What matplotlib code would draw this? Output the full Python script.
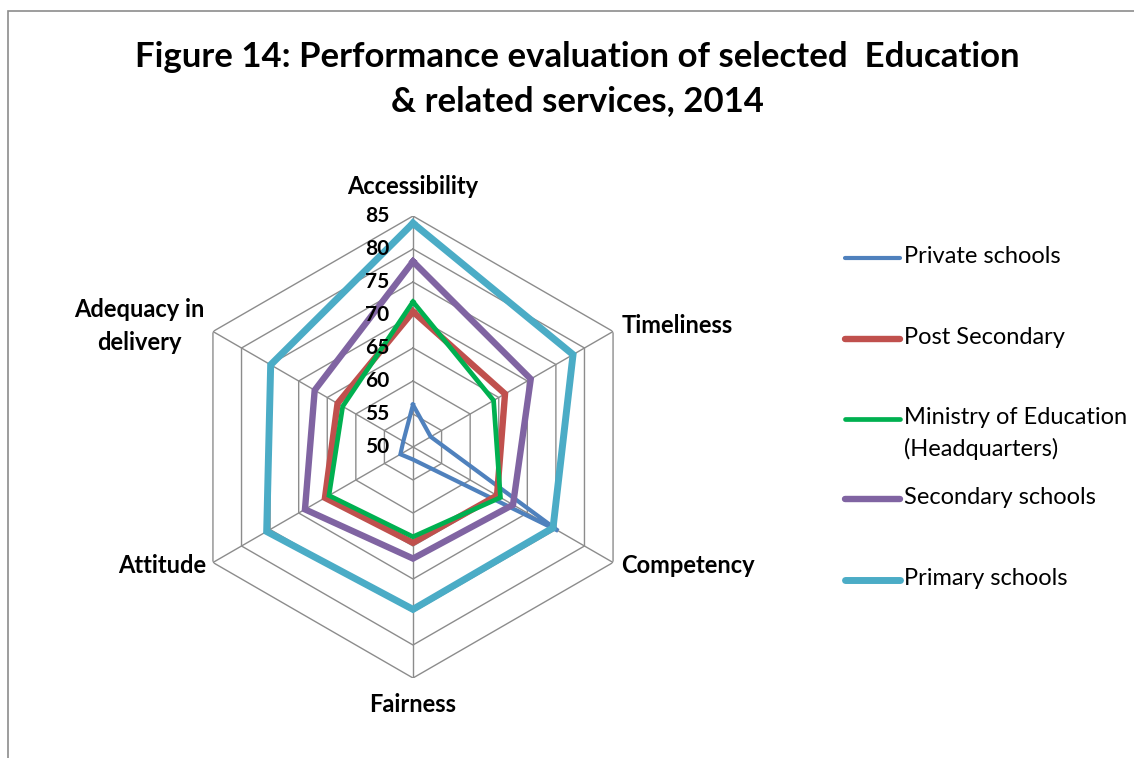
import numpy as np
import matplotlib
matplotlib.use("Agg")
import matplotlib.pyplot as plt
from matplotlib.lines import Line2D
from matplotlib.patches import Rectangle

plt.rcParams['font.family'] = ['Lato', 'DejaVu Sans']

categories = ['Accessibility', 'Timeliness', 'Competency', 'Fairness', 'Attitude',
              'Adequacy in\ndelivery']
series_names = ['Private schools', 'Post Secondary', 'Ministry of Education\n(Headquarters)',
                'Secondary schools', 'Primary schools']
private = [56.4, 53.1, 75.4, 51.9, 52.2, 51.7]
post_secondary = [70.5, 66.1, 64.7, 64.5, 65.4, 63.2]
ministry = [72.0, 64.1, 65.3, 63.6, 64.7, 62.3]
secondary = [78.1, 70.6, 67.5, 66.9, 68.9, 67.2]
primary = [83.9, 78.0, 74.5, 74.6, 75.6, 74.9]
levels = [50, 55, 60, 65, 70, 75, 80, 85]

data = [private, post_secondary, ministry, secondary, primary]
colors = ['#4F81BD', '#C0504D', '#00B050', '#8064A2', '#4BACC6']
widths = [3.0, 4.6, 3.4, 4.6, 5.0]

W, H = 1134, 758
fig = plt.figure(figsize=(W / 100, H / 100), dpi=100)

# chart-area border (partly cut off on right/bottom)
fig.patches.append(Rectangle((8 / W, -0.1), 1.2, (H - 11) / H + 0.1, transform=fig.transFigure,
                             fill=False, edgecolor='#8c8c8c', lw=1.2))

fig.text(577 / W, 1 - 57 / H, 'Figure 14: Performance evaluation of selected  Education',
         ha='center', va='center', fontsize=25, fontweight='bold')
fig.text(577 / W, 1 - 101 / H, '& related services, 2014',
         ha='center', va='center', fontsize=25, fontweight='bold')

cx, cy, R = 413, 447, 231
ax = fig.add_axes([(cx - R) / W, (H - cy - R) / H, 2 * R / W, 2 * R / H], projection='polar')
ax.set_theta_offset(np.pi / 2)
ax.set_theta_direction(-1)
ax.set_ylim(levels[0], levels[-1])
ax.grid(False)
ax.spines['polar'].set_visible(False)
ax.set_xticks([])
ax.set_yticks([])
ax.patch.set_alpha(0)

angles = np.linspace(0, 2 * np.pi, len(categories), endpoint=False)
closed = np.append(angles, angles[0])

grid_col = '#8c8c8c'
for lvl in levels[1:]:
    ax.plot(closed, [lvl] * len(closed), color=grid_col, lw=1.0, zorder=1)
for a in angles:
    ax.plot([a, a], [levels[0], levels[-1]], color=grid_col, lw=1.0, zorder=1)

for vals, c, w in zip(data, colors, widths):
    ax.plot(closed, list(vals) + [vals[0]], color=c, lw=w, solid_joinstyle='miter', zorder=3)

for lvl in levels:
    ax.annotate(str(lvl), xy=(0, lvl), xytext=(-17, 0), textcoords='offset points',
                ha='right', va='center', fontsize=15, fontweight='bold', zorder=5)

offsets = [(0, 13, 'center', 'bottom'), (6, 4, 'left', 'center'), (6, -2.5, 'left', 'center'),
           (0, -11, 'center', 'top'), (-5, -2.5, 'right', 'center'), (-6, 4, 'right', 'center')]
for a, lab, (dx, dy, ha, va) in zip(angles, categories, offsets):
    ax.annotate(lab, xy=(a, levels[-1]), xytext=(dx, dy), textcoords='offset points',
                ha=ha, va=va, fontsize=17, fontweight='bold', multialignment='center',
                linespacing=1.55)

# legend
ys = [258, 339, 419, 499, 580]
for name, c, w, y in zip(series_names, colors, widths, ys):
    fig.add_artist(Line2D([845 / W, 900 / W], [1 - y / H, 1 - y / H], color=c, lw=w,
                          solid_capstyle='round', transform=fig.transFigure))
    fig.text(904 / W, 1 - (y - 12) / H, name, ha='left', va='top', fontsize=17,
             linespacing=1.55)

fig.savefig('out.png', dpi=100)
